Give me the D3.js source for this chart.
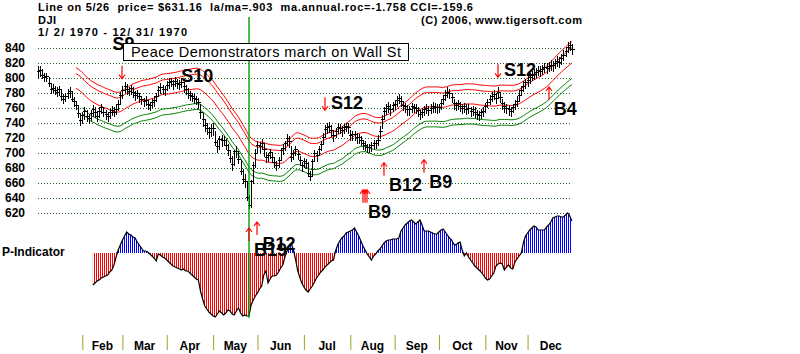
<!DOCTYPE html>
<html>
<head>
<meta charset="utf-8">
<script src="https://cdn.jsdelivr.net/npm/d3@7"></script>
<style>
  body { margin: 0; background: #fff; }
  svg { display: block; font-family: "Liberation Sans", Arial, sans-serif; }
</style>
</head>
<body>
<svg id="chart" width="800" height="354"></svg>
<script>
// DJI 1970, one value per trading day (rows = months)
const closes = [
  809.2, 811.3, 803.7, 801.8, 802.1, 792.7, 785.3, 787.2, 784.5, 782.0, 785.9, 775.9, 772.3, 776.0, 780.5, 783.0, 772.4, 768.9, 764.0, 752.8, 744.1,
  750.3, 755.4, 748.9, 746.4, 753.5, 758.0, 754.5, 750.0, 756.2, 760.8, 755.3, 752.0, 749.5, 754.6, 757.9, 755.0, 759.3, 765.8, 777.6,
  784.0, 789.7, 785.6, 783.2, 786.5, 781.9, 777.6, 780.0, 775.4, 772.1, 768.8, 771.3, 765.5, 763.6, 768.0, 770.5, 776.3, 784.2, 787.8, 785.6, 785.6,
  791.0, 794.2, 795.5, 792.6, 796.3, 793.8, 792.5, 794.5, 789.2, 785.9, 780.4, 777.9, 776.0, 774.0, 772.0, 768.0, 755.0, 745.0, 738.0, 733.0, 728.0, 733.0,
  733.6, 714.6, 709.7, 718.4, 717.7, 717.7, 710.0, 704.3, 693.8, 684.8, 702.2, 702.2, 691.4, 676.6, 665.3, 662.2, 641.4, 631.2, 663.2, 684.2, 700.4,
  710.4, 709.6, 713.9, 705.0, 695.0, 697.0, 701.0, 694.4, 688.6, 684.2, 690.5, 703.4, 707.0, 712.7, 720.4, 716.3, 695.0, 700.1, 705.4, 699.0, 690.6, 683.5,
  689.1, 687.0, 674.0, 669.4, 690.0, 700.0, 697.0, 705.0, 712.0, 722.0, 732.0, 735.1, 735.9, 731.0, 723.4, 729.6, 735.0, 734.0, 730.2, 734.6, 736.0, 734.1,
  724.0, 726.0, 725.0, 721.0, 721.5, 717.0, 713.0, 710.8, 707.4, 707.6, 710.0, 713.6, 713.5, 718.0, 730.0, 745.4, 755.5, 760.0, 762.8, 758.0, 764.6,
  765.3, 771.2, 773.1, 770.0, 764.3, 762.0, 758.5, 758.0, 762.0, 761.4, 759.9, 757.0, 752.4, 755.0, 758.3, 760.0, 757.6, 760.0, 762.0, 761.0, 760.7,
  761.0, 766.0, 772.0, 778.0, 782.0, 780.0, 775.0, 766.0, 764.0, 766.0, 763.0, 760.0, 762.0, 759.0, 760.0, 756.0, 758.0, 755.0, 752.0, 751.0, 754.0, 756.0,
  762.0, 768.0, 772.0, 776.0, 779.0, 774.0, 782.0, 775.0, 766.0, 762.0, 760.0, 758.0, 756.0, 761.0, 765.0, 770.0, 778.0, 784.0, 790.0, 794.1,
  797.0, 801.0, 804.0, 806.0, 808.0, 811.0, 810.0, 812.0, 815.0, 814.0, 816.0, 818.0, 817.0, 820.0, 823.0, 822.0, 826.0, 831.0, 836.0, 842.0, 844.0, 839.0
];
const highs = [
  818, 817, 813, 808, 808, 803, 794, 793, 791, 789, 791, 786, 780, 782, 787, 790, 784, 776, 771, 765, 754,
  756, 762, 758, 753, 759, 765, 762, 757, 762, 767, 763, 758, 756, 760, 764, 763, 766, 772, 783,
  791, 796, 793, 789, 792, 789, 784, 786, 782, 778, 775, 777, 772, 770, 774, 777, 782, 791, 795, 792, 791,
  797, 801, 802, 799, 803, 800, 799, 801, 796, 792, 788, 784, 782, 780, 778, 775, 766, 754, 747, 741, 736, 740,
  742, 731, 719, 724, 725, 724, 720, 714, 706, 697, 706, 711, 704, 692, 680, 673, 663, 646, 666, 690, 707,
  717, 716, 720, 714, 703, 702, 707, 702, 695, 691, 696, 708, 713, 718, 727, 724, 710, 705, 711, 706, 698, 690,
  695, 694, 690, 678, 694, 706, 704, 710, 718, 728, 739, 742, 743, 739, 731, 735, 741, 740, 737, 740, 742, 741,
  732, 731, 731, 728, 727, 724, 719, 717, 714, 713, 716, 719, 719, 725, 737, 752, 763, 767, 769, 766, 770,
  772, 777, 780, 777, 771, 768, 765, 764, 768, 767, 766, 763, 759, 761, 764, 766, 764, 766, 769, 768, 767,
  767, 773, 779, 785, 789, 787, 782, 773, 770, 772, 770, 767, 768, 766, 766, 763, 764, 762, 759, 757, 760, 762,
  768, 774, 779, 783, 786, 781, 790, 783, 773, 769, 767, 765, 763, 767, 772, 777, 785, 791, 797, 800,
  804, 808, 811, 813, 815, 818, 817, 819, 822, 821, 823, 825, 824, 827, 830, 829, 833, 838, 843, 849, 851, 846
];
const lows = [
  800, 803, 800, 796, 796, 789, 780, 781, 779, 776, 778, 771, 766, 769, 773, 775, 769, 763, 758, 748, 738,
  740, 745, 743, 740, 744, 750, 748, 743, 748, 753, 749, 745, 743, 747, 751, 749, 752, 757, 767,
  774, 781, 779, 777, 779, 775, 771, 773, 768, 765, 762, 764, 758, 757, 761, 763, 769, 776, 780, 779, 778,
  784, 787, 789, 786, 789, 787, 786, 788, 782, 779, 773, 771, 769, 767, 765, 760, 747, 736, 729, 725, 720, 723,
  724, 710, 701, 706, 709, 710, 705, 698, 688, 677, 684, 695, 687, 672, 660, 655, 637, 627, 628, 660, 682,
  700, 702, 705, 696, 688, 689, 693, 688, 681, 677, 682, 692, 699, 704, 711, 708, 690, 692, 698, 692, 684, 676,
  682, 680, 670, 664, 671, 689, 690, 697, 704, 712, 722, 727, 728, 723, 716, 721, 727, 727, 723, 727, 729, 727,
  717, 718, 718, 714, 714, 710, 706, 704, 701, 701, 703, 706, 707, 711, 720, 733, 745, 752, 755, 751, 756,
  758, 763, 766, 763, 757, 755, 751, 751, 755, 754, 753, 750, 745, 748, 751, 753, 751, 753, 755, 754, 753,
  754, 759, 765, 771, 775, 773, 768, 759, 757, 759, 756, 753, 755, 752, 753, 749, 751, 748, 745, 744, 747, 749,
  755, 761, 765, 769, 772, 767, 775, 768, 759, 755, 753, 751, 749, 754, 758, 763, 771, 777, 783, 787,
  790, 794, 797, 799, 801, 804, 803, 805, 808, 807, 809, 811, 810, 813, 816, 815, 819, 824, 829, 835, 837, 832
];
// P-Indicator, first value is trading day 26
const pStart = 26;
const pIndicator = [
  -32, -30, -28, -27, -25, -24, -23, -22, -19, -17,
  -12, -4, 3, 8, 13, 17, 21, 19, 18, 16,
  15, 11, 8, 5, 2, 2, 1, -1, -3, -5,
  -8, -1, -2, -4, -5, -7, -9, -11, -13, -14,
  -15, -16, -17, -16, -18, -18, -20, -22, -24, -26,
  -27, -38, -46, -53, -56, -59, -61, -63, -64, -61,
  -58, -60, -62, -60, -57, -58, -61, -62, -58, -55,
  -60, -63, -62, -63, -63, -52, -47, -43, -40, -36,
  -33, -22, -18, -30, -26, -23, -23, -22, -19, -15,
  -12, -4, 2, 8, 10, 3, -6, -17, -24, -30,
  -34, -37, -39, -36, -33, -29, -25, -22, -19, -17,
  -14, -12, -10, -8, -7, 2, 8, 12, 15, 17,
  20, 21, 22, 23, 25, 21, 17, 12, 7, 3,
  -1, -4, -7, -3, -1, 2, 4, 7, 10, 12,
  13, 13, 14, 14, 14, 15, 22, 25, 28, 30,
  32, 33, 31, 29, 31, 33, 28, 22, 22, 22,
  21, 20, 19, 19, 21, 23, 24, 21, 18, 15,
  13, 9, 8, 10, 11, 3, -3, 0, -4, -7,
  -10, -13, -15, -17, -19, -22, -25, -27, -26, -23,
  -20, -13, -11, -10, -11, -17, -14, -12, -15, -16,
  -9, -6, -3, 0, 10, 17, 20, 23, 25, 27,
  26, 23, 23, 23, 23, 26, 28, 31, 35, 36,
  37, 37, 36, 36, 38, 40, 37, 32
];
const holidays = ['1970-02-23', '1970-03-27', '1970-07-03', '1970-09-07', '1970-11-26', '1970-12-25'];
const priceTicks = [840, 820, 800, 780, 760, 740, 720, 700, 680, 660, 640, 620];
const upperBands = [1.035, 1.025, 1.0];
const lowerBands = [0.975, 0.965];
// signals: code, trading days, price level of arrow tip
const signals = [
  { code: 'S9',  days: [40],            level: 799 },
  { code: 'S10', days: [65],            level: 793, noArrow: true },
  { code: 'S12', days: [136],           level: 757 },
  { code: 'S12', days: [218],           level: 801 },
  { code: 'B4',  days: [242],           level: 788 },
  { code: 'B12', days: [164],           level: 687 },
  { code: 'B9',  days: [183],           level: 691 },
  { code: 'B9',  days: [154, 155, 156], level: 651 },
  { code: 'B19', days: [100],           level: 600 },
  { code: 'B12', days: [104],           level: 608 }
];
const markDay = 100; // 5/26

const fmt = d3.utcFormat('%Y-%m-%d');
const tradingDays = d3.utcDays(new Date(Date.UTC(1970, 0, 2)), new Date(Date.UTC(1971, 0, 1)))
  .filter(d => d.getUTCDay() % 6 !== 0 && !holidays.includes(fmt(d)));
const monthFmt = d3.utcFormat('%b');

const svg = d3.select('#chart');
const x = d3.scaleLinear().domain([0, 254]).range([38, 574]);
const y = d3.scaleLinear().domain([620, 840]).range([213, 48]);
const yp = d3.scaleLinear().domain([0, 40]).range([253, 213]);
const px = i => Math.round(x(i)) + 0.5;
const py = v => Math.round(y(v)) + 0.5;

// hatch patterns for the indicator
const defs = svg.append('defs');
[['hatchRed', '#ff0000'], ['hatchBlue', '#0000ff']].forEach(([id, c]) => {
  defs.append('pattern').attr('id', id)
      .attr('patternUnits', 'userSpaceOnUse')
      .attr('width', 2).attr('height', 4)
    .append('rect').attr('width', 1).attr('height', 4).attr('fill', c);
});

// header
const header = svg.append('g')
    .attr('font-weight', 'bold')
    .attr('font-size', 11);
const headText = (tx, ty, str, len) => header.append('text')
    .attr('x', tx).attr('y', ty)
    .attr('textLength', len).attr('lengthAdjust', 'spacing')
    .text(str.replace(/ /g, '\u00a0'));
headText(38, 11, 'Line on 5/26  price= $631.16  la/ma=.903  ma.annual.roc=-1.758 CCI=-159.6', 435);
headText(38, 23.5, 'DJI', 18);
headText(38, 36, '1/ 2/ 1970 - 12/ 31/ 1970', 149);
headText(421, 24, '(C) 2006, www.tigersoft.com', 161);

// dotted grid
svg.append('g').selectAll('line').data(priceTicks).join('line')
    .attr('x1', 38).attr('x2', 572)
    .attr('y1', d => py(d)).attr('y2', d => py(d))
    .attr('stroke', '#1f5f1f')
    .attr('stroke-dasharray', '1,2');

const yAxis = svg.append('g')
    .attr('transform', 'translate(25,0)')
    .call(d3.axisLeft(y).tickValues(priceTicks).tickSize(0).tickPadding(0));
yAxis.select('.domain').remove();
yAxis.selectAll('text')
    .attr('font-family', '"Liberation Sans", Arial, sans-serif')
    .attr('font-size', 12)
    .attr('font-weight', 'bold')
    .attr('fill', '#000');

// moving-average bands
const ma = closes.map((c, i) => i < 18 ? null : d3.mean(closes.slice(Math.max(0, i - 20), i + 1)));
const bandLine = (f, start) => d3.line()
    .defined((d, i) => i >= start)
    .x((d, i) => x(i))
    .y(d => y(d * f))(ma);
upperBands.forEach(f => {
  svg.append('path').attr('d', bandLine(f, 18))
      .attr('fill', 'none').attr('stroke', '#ff0000');
});
lowerBands.forEach(f => {
  svg.append('path').attr('d', bandLine(f, 21))
      .attr('fill', 'none').attr('stroke', '#008000');
});

// price bars
svg.append('g').attr('shape-rendering', 'crispEdges')
  .selectAll('path').data(closes).join('path')
    .attr('d', (c, i) => `M${px(i)},${py(highs[i])}V${py(lows[i])}M${px(i) - 1.5},${py(c)}H${px(i) + 2.5}`)
    .attr('stroke', '#000');

// P-Indicator
const pData = pIndicator.map((v, k) => ({ i: k + pStart, v }));
svg.append('path')
    .attr('d', d3.area().x(d => x(d.i)).y0(yp(0)).y1(d => yp(Math.min(0, d.v)))(pData))
    .attr('fill', 'url(#hatchRed)');
svg.append('path')
    .attr('d', d3.area().x(d => x(d.i)).y0(yp(0)).y1(d => yp(Math.max(0, d.v)))(pData))
    .attr('fill', 'url(#hatchBlue)');
svg.append('path')
    .attr('d', d3.line().x(d => x(d.i)).y(d => yp(d.v))(pData))
    .attr('fill', 'none').attr('stroke', '#000').attr('stroke-width', 1.2);
svg.append('text').attr('x', 2).attr('y', 256)
    .attr('font-size', 12).attr('font-weight', 'bold')
    .text('P-Indicator');

// month axis
const monthStarts = tradingDays.map((d, i) => i)
    .filter(i => i > 0 && tradingDays[i].getUTCMonth() !== tradingDays[i - 1].getUTCMonth());
const xAxis = svg.append('g')
    .attr('transform', 'translate(0,335)')
    .call(d3.axisBottom(x).tickValues(monthStarts).tickSize(15).tickFormat(''));
xAxis.select('.domain').remove();
xAxis.selectAll('line').attr('stroke', '#a0a020');
svg.append('g').selectAll('text').data(monthStarts).join('text')
    .attr('x', (s, k) => x((s + (monthStarts[k + 1] || tradingDays.length)) / 2))
    .attr('y', 350)
    .attr('text-anchor', 'middle')
    .attr('font-size', 12).attr('font-weight', 'bold')
    .text(s => monthFmt(tradingDays[s]));

// date marker line
svg.append('line')
    .attr('x1', Math.round(x(markDay))).attr('x2', Math.round(x(markDay)))
    .attr('y1', 17).attr('y2', 318)
    .attr('stroke', '#00a000').attr('stroke-width', 1.4);

// signals
const arrowLen = 13;
const sigG = svg.append('g');
signals.forEach(s => {
  const sell = s.code[0] === 'S';
  const tip = y(s.level);
  const tail = sell ? tip - arrowLen : tip + arrowLen;
  if (!s.noArrow) {
    s.days.forEach(d => {
      const ax = Math.round(x(d));
      const hd = sell ? -4 : 4;
      sigG.append('path')
          .attr('d', `M${ax},${tail}V${tip}M${ax - 3},${tip + hd}L${ax},${tip}L${ax + 3},${tip + hd}`)
          .attr('fill', 'none').attr('stroke', '#ff0000').attr('stroke-width', 1.2);
    });
  }
  const lx = x(s.days[0]);
  let tx, ty;
  if (s.code === 'S9') { tx = lx - 10; ty = tail - 16; }
  else if (sell) { tx = lx + 6; ty = tip - 1; }
  else { tx = lx + 5; ty = tail + 15; }
  sigG.append('text').attr('x', tx).attr('y', ty)
      .attr('font-size', 18).attr('font-weight', 'bold')
      .text(s.code);
});

// news box
svg.append('rect')
    .attr('x', 123.5).attr('y', 43.5).attr('width', 285).attr('height', 17)
    .attr('fill', '#fff').attr('stroke', '#000');
svg.append('text').attr('x', 131).attr('y', 57)
    .attr('font-size', 14.5)
    .attr('textLength', 270).attr('lengthAdjust', 'spacing')
    .text('Peace Demonstrators march on Wall St');
</script>
</body>
</html>
